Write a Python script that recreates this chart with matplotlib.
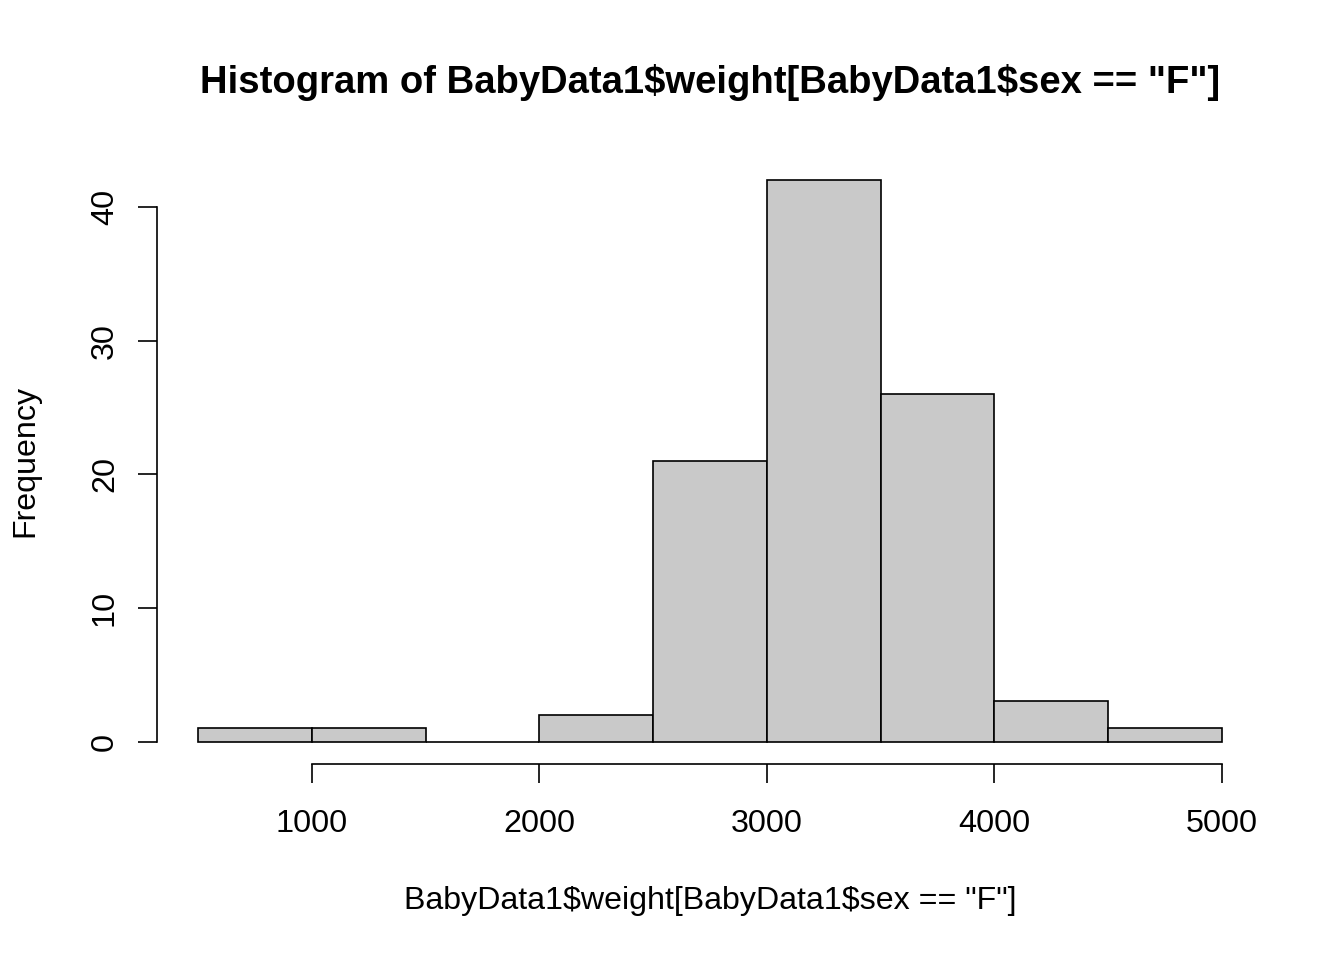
import numpy as np
import matplotlib
matplotlib.use("Agg")
import matplotlib.pyplot as plt

plt.rcParams["font.family"] = ["Liberation Sans", "DejaVu Sans"]
plt.rcParams["text.parse_math"] = False

# histogram bins (weight, grams) and counts
bin_edges = [500, 1000, 1500, 2000, 2500, 3000, 3500, 4000, 4500, 5000]
counts = [1, 1, 0, 2, 21, 42, 26, 3, 1]

x_ticks = [1000, 2000, 3000, 4000, 5000]
y_ticks = [0, 10, 20, 30, 40]

title = 'Histogram of BabyData1$weight[BabyData1$sex == "F"]'
x_label = 'BabyData1$weight[BabyData1$sex == "F"]'
y_label = "Frequency"

W, H = 1344, 960
fig = plt.figure(figsize=(W / 100, H / 100), dpi=100)

# plot region (R style, 4% padding on both axes)
left, right, top, bottom = 157, 1263, 158, 764
ax = fig.add_axes([left / W, 1 - bottom / H, (right - left) / W, (bottom - top) / H])

edges = np.array(bin_edges)
widths = np.diff(edges)
ax.bar(edges[:-1], counts, width=widths, align="edge",
       color="#C9C9C9", edgecolor="black", linewidth=1.2)

xr = edges[-1] - edges[0]
ax.set_xlim(edges[0] - 0.04 * xr, edges[-1] + 0.04 * xr)
ymax = max(counts)
ax.set_ylim(-0.04 * ymax, ymax * 1.04)

for s in ["top", "right"]:
    ax.spines[s].set_visible(False)
ax.spines["left"].set_bounds(y_ticks[0], y_ticks[-1])
ax.spines["bottom"].set_bounds(x_ticks[0], x_ticks[-1])
ax.spines["left"].set_linewidth(1.2)
ax.spines["bottom"].set_linewidth(1.2)

ax.set_xticks(x_ticks)
ax.set_xticklabels([str(v) for v in x_ticks])
ax.set_yticks(y_ticks)
ax.set_yticklabels([str(v) for v in y_ticks], rotation=90, va="center")

ax.tick_params(axis="both", direction="out", length=13.7, width=1.2,
               labelsize=23.3)
ax.tick_params(axis="x", pad=19)
ax.tick_params(axis="y", pad=13)

fig.text(710 / W, 1 - 92.7 / H, title, ha="center", va="baseline",
         fontsize=27.5, fontweight="bold")
fig.text(710 / W, 1 - 909 / H, x_label, ha="center", va="baseline",
         fontsize=23.1)
fig.text(25 / W, 1 - 461 / H, y_label, ha="center", va="center",
         rotation=90, fontsize=23.1)

fig.savefig("out.png", dpi=100)
